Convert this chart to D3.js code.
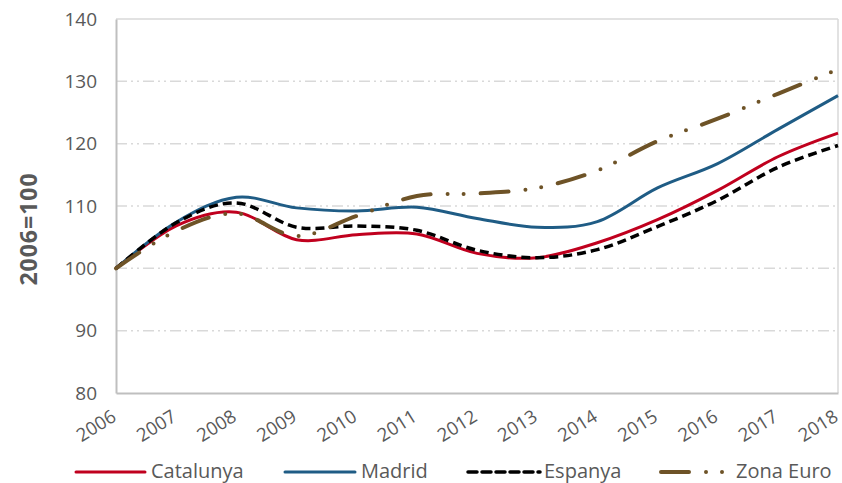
<!DOCTYPE html>
<html>
<head>
<meta charset="utf-8">
<script src="https://cdn.jsdelivr.net/npm/d3@7"></script>
<style>
  body { margin: 0; background: #fff; }
  text { font-family: "Open Sans", "Noto Sans", sans-serif; fill: #595959; }
</style>
</head>
<body>
<div id="chart"></div>
<script>
// Datos (índice 2006=100)
const years = [2006, 2007, 2008, 2009, 2010, 2011, 2012, 2013, 2014, 2015, 2016, 2017, 2018];
const catalunya = [100, 106.8, 109.0, 104.6, 105.4, 105.5, 102.4, 101.7, 104.1, 107.8, 112.5, 117.9, 121.7];
const madrid    = [100, 107.4, 111.4, 109.7, 109.2, 109.8, 108.0, 106.6, 107.5, 112.9, 116.8, 122.3, 127.7];
const espanya   = [100, 107.3, 110.5, 106.6, 106.8, 106.1, 102.9, 101.7, 103.0, 106.7, 110.9, 116.2, 119.7];
const zonaEuro  = [100, 106.0, 108.8, 105.2, 108.4, 111.6, 112.0, 112.9, 115.7, 120.4, 124.0, 128.0, 131.9];
const yTicks = [80, 90, 100, 110, 120, 130, 140];

const series = [
  { name: "Catalunya", values: catalunya, color: "#c0001e", dash: null, width: 3 },
  { name: "Madrid", values: madrid, color: "#1f5c85", dash: null, width: 3 },
  { name: "Espanya", values: espanya, color: "#000000", dash: "9,5", width: 3.5 },
  { name: "Zona Euro", values: zonaEuro, color: "#6e5327", dash: "28,17,0,16,0,17", width: 4, cap: "round" }
];

const W = 842, H = 483;
const margin = { top: 19, right: 4, bottom: 90, left: 116 };
const width = W - margin.left - margin.right;
const height = H - margin.top - margin.bottom;

const svg = d3.select("#chart").append("svg")
    .attr("width", W)
    .attr("height", H);

const g = svg.append("g")
    .attr("transform", `translate(${margin.left}, ${margin.top})`);

// Escalas
const x = d3.scaleLinear().domain([2006, 2018]).range([0, width]);
const y = d3.scaleLinear().domain([80, 140]).range([height, 0]);

// Rejilla
g.selectAll(".grid")
    .data(yTicks.filter(t => t > 80 && t < 140))
    .enter().append("line")
    .attr("x1", 0).attr("x2", width)
    .attr("y1", d => y(d)).attr("y2", d => y(d))
    .attr("stroke", "#d9d9d9")
    .attr("stroke-width", 1.5)
    .attr("stroke-dasharray", "11,4,2,4,2,4");

// Marco
g.append("line").attr("x1", 0).attr("x2", width).attr("y1", 0).attr("y2", 0)
    .attr("stroke", "#d9d9d9").attr("stroke-width", 1.5);
g.append("line").attr("x1", width).attr("x2", width).attr("y1", 0).attr("y2", height)
    .attr("stroke", "#d9d9d9").attr("stroke-width", 1.5);

// Ejes
const yAxis = g.append("g")
    .call(d3.axisLeft(y).tickValues(yTicks).tickSize(0).tickPadding(19));
yAxis.select(".domain").attr("stroke", "#bfbfbf").attr("stroke-width", 2);
yAxis.selectAll("text").style("font-size", "19px").attr("fill", "#595959");

const xAxis = g.append("g")
    .attr("transform", `translate(0, ${height})`)
    .call(d3.axisBottom(x).tickValues(years).tickFormat(d3.format("d")).tickSize(0));
xAxis.select(".domain").attr("stroke", "#bfbfbf").attr("stroke-width", 2);
xAxis.selectAll("text")
    .style("font-size", "18.5px")
    .attr("fill", "#595959")
    .attr("text-anchor", "end")
    .attr("x", 0).attr("y", 0).attr("dy", 0)
    .attr("transform", "translate(1, 27) rotate(-32)");

// Título eje Y
svg.append("text")
    .attr("transform", "translate(37, 229) rotate(-90)")
    .attr("text-anchor", "middle")
    .style("font-size", "23px")
    .style("font-weight", "bold")
    .style("letter-spacing", "1px")
    .text("2006=100");

// Líneas
const line = d3.line()
    .x((d, i) => x(years[i]))
    .y(d => y(d))
    .curve(d3.curveCatmullRom.alpha(0));

series.forEach(s => {
  g.append("path")
      .datum(s.values)
      .attr("fill", "none")
      .attr("stroke", s.color)
      .attr("stroke-width", s.width)
      .attr("stroke-linecap", s.cap || "butt")
      .attr("stroke-dasharray", s.dash)
      .attr("d", line);
});

// Leyenda
const legendPos = [
  { x1: 76, x2: 145, tx: 151 },
  { x1: 285, x2: 355, tx: 361 },
  { x1: 468, x2: 540, tx: 544 },
  { x1: 661, x2: 729, tx: 736 }
];
const legend = svg.append("g");
series.forEach((s, i) => {
  const p = legendPos[i];
  legend.append("line")
      .attr("x1", p.x1).attr("x2", p.x2)
      .attr("y1", 472).attr("y2", 472)
      .attr("stroke", s.color)
      .attr("stroke-width", s.width)
      .attr("stroke-linecap", s.cap || "round")
      .attr("stroke-dasharray", s.dash);
  legend.append("text")
      .attr("x", p.tx).attr("y", 478)
      .style("font-size", "20px")
      .text(s.name);
});
</script>
</body>
</html>
